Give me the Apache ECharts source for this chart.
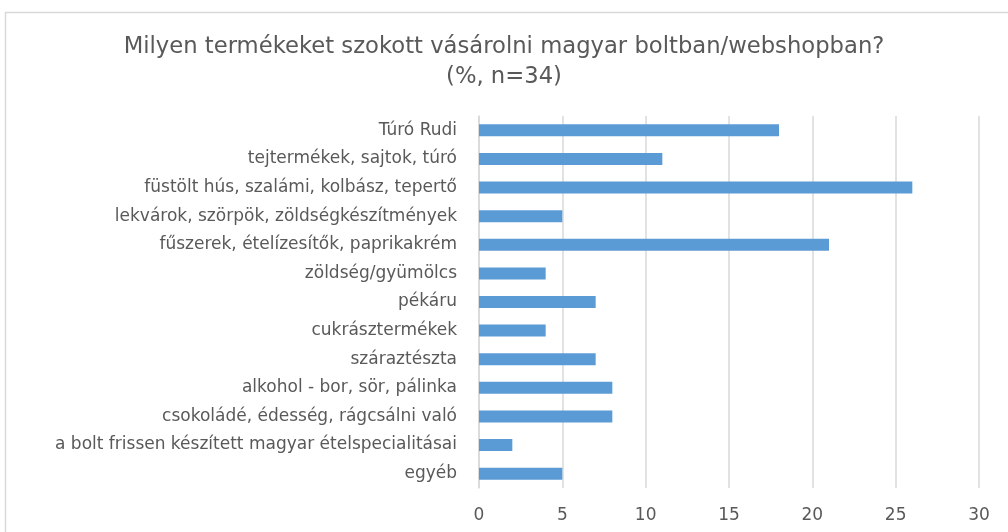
<!DOCTYPE html>
<html><head><meta charset="utf-8">
<script src="https://cdn.jsdelivr.net/npm/echarts@6/dist/echarts.min.js"></script>
<style>html,body{margin:0;padding:0;background:#fff}#c{width:1008px;height:532px}</style>
</head><body><div id="c"></div>
<script>
var categories = ["Túró Rudi","tejtermékek, sajtok, túró","füstölt hús, szalámi, kolbász, tepertő","lekvárok, szörpök, zöldségkészítmények","fűszerek, ételízesítők, paprikakrém","zöldség/gyümölcs","pékáru","cukrásztermékek","száraztészta","alkohol - bor, sör, pálinka","csokoládé, édesség, rágcsálni való","a bolt frissen készített magyar ételspecialitásai","egyéb"];
var values = [18,11,26,5,21,4,7,4,7,8,8,2,5];
var titleText = "Milyen termékeket szokott vásárolni magyar boltban/webshopban?\n(%, n=34)";
var fontFam = "'DejaVu Sans', sans-serif";
var chart = echarts.init(document.getElementById('c'));
chart.setOption({
  animation:false,
  graphic:[{type:'rect',shape:{x:5.5,y:12.5,width:1100,height:600},style:{fill:'none',stroke:'#D9D9D9',lineWidth:1.5}}],
  title:{text:titleText,left:'center',top:27,textStyle:{fontFamily:fontFam,fontSize:22.7,fontWeight:'normal',color:'#595959',lineHeight:30},
    padding:[5,0,5,0]},
  grid:{left:479,right:29,top:116,bottom:44,containLabel:false},
  xAxis:{type:'value',min:0,max:30,interval:5,
    axisLine:{show:false},axisTick:{show:false},
    splitLine:{lineStyle:{color:'#D9D9D9',width:1.5}},
    axisLabel:{fontFamily:fontFam,fontSize:17,color:'#595959',margin:19}},
  yAxis:{type:'category',data:categories,inverse:true,
    axisLine:{show:true,lineStyle:{color:'#D9D9D9',width:1.5}},axisTick:{show:false},
    axisLabel:{fontFamily:fontFam,fontSize:17,color:'#595959',margin:22}},
  series:[{type:'bar',data:values,barWidth:'42%',itemStyle:{color:'#5B9BD5'}}]
});
</script></body></html>
